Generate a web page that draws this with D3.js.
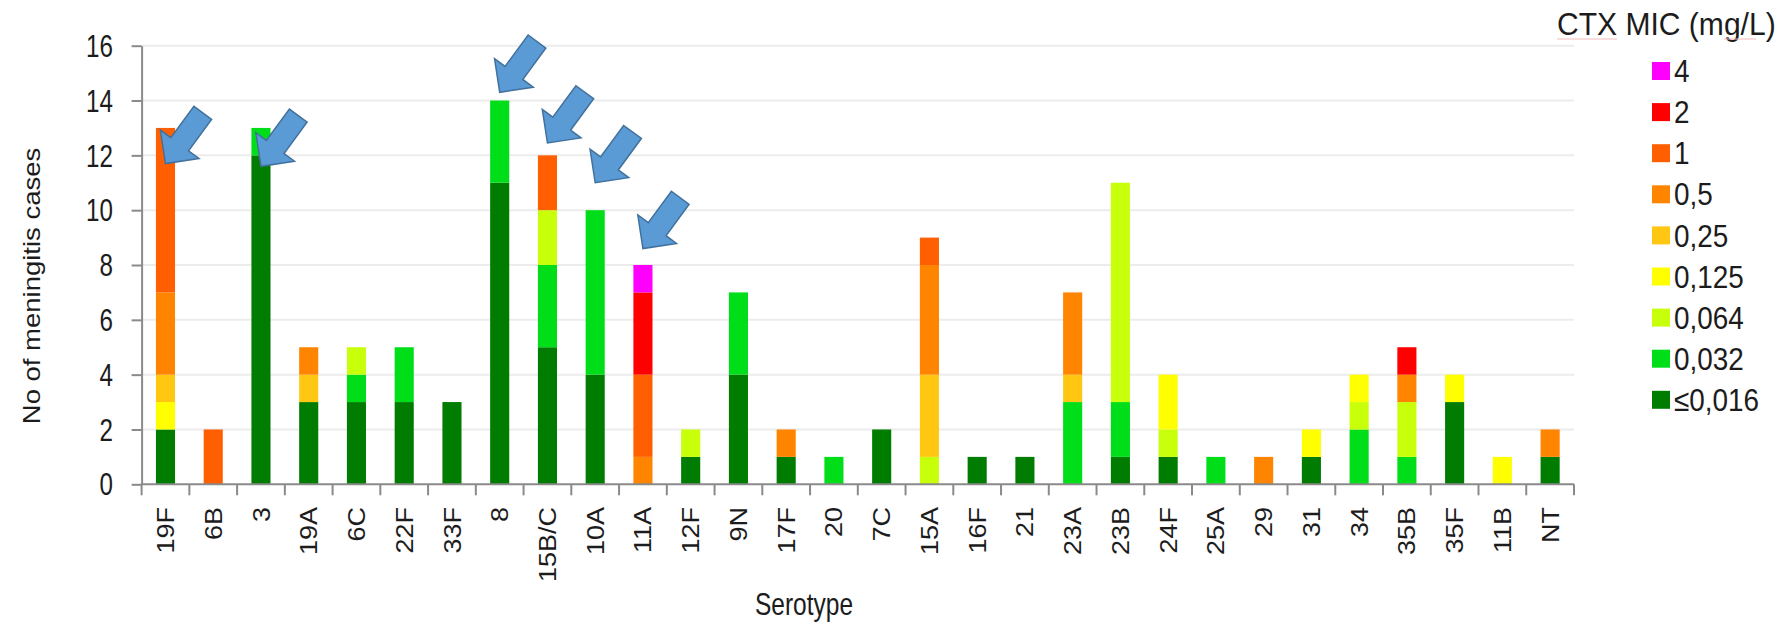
<!DOCTYPE html>
<html>
<head>
<meta charset="utf-8">
<script src="https://cdn.jsdelivr.net/npm/d3@7"></script>
<style>
  html, body { margin: 0; padding: 0; background: #fff; }
  svg { display: block; font-family: "Liberation Sans", Arial, sans-serif; }
</style>
</head>
<body>
<svg id="chart" width="1783" height="624"></svg>
<script>
// Serotypes on the x axis
const serotypes = ["19F","6B","3","19A","6C","22F","33F","8","15B/C","10A","11A","12F","9N","17F","20","7C",
                   "15A","16F","21","23A","23B","24F","25A","29","31","34","35B","35F","11B","NT"];

// Cases per serotype for each cefotaxime MIC level (mg/L)
const mic016 = [2,0,12,3,3,3,3,11,5,4,0,1,4,1,0,2,0,1,1,0,1,1,0,0,1,0,0,3,0,1];
const mic032 = [0,0,1,0,1,2,0,3,3,6,0,0,3,0,1,0,0,0,0,3,2,0,1,0,0,2,1,0,0,0];
const mic064 = [0,0,0,0,1,0,0,0,2,0,0,1,0,0,0,0,1,0,0,0,8,1,0,0,0,1,2,0,0,0];
const mic125 = [1,0,0,0,0,0,0,0,0,0,0,0,0,0,0,0,0,0,0,0,0,2,0,0,1,1,0,1,1,0];
const mic25  = [1,0,0,1,0,0,0,0,0,0,0,0,0,0,0,0,3,0,0,1,0,0,0,0,0,0,0,0,0,0];
const mic5   = [3,0,0,1,0,0,0,0,0,0,1,0,0,1,0,0,4,0,0,3,0,0,0,1,0,0,1,0,0,1];
const mic1   = [6,2,0,0,0,0,0,0,2,0,3,0,0,0,0,0,1,0,0,0,0,0,0,0,0,0,0,0,0,0];
const mic2   = [0,0,0,0,0,0,0,0,0,0,3,0,0,0,0,0,0,0,0,0,0,0,0,0,0,0,1,0,0,0];
const mic4   = [0,0,0,0,0,0,0,0,0,0,1,0,0,0,0,0,0,0,0,0,0,0,0,0,0,0,0,0,0,0];

// MIC levels, stacked from the bottom up, with their legend labels
const micKeys   = ["le016","m032","m064","m125","m25","m5","m1","m2","m4"];
const micLabels = ["≤0,016","0,032","0,064","0,125","0,25","0,5","1","2","4"];
const micValues = [mic016, mic032, mic064, mic125, mic25, mic5, mic1, mic2, mic4];
const micColors = ["#007d00","#00de1a","#c8ff0a","#ffff00","#ffc612","#ff8400","#ff5f00","#ff0000","#ff00ff"];

// Y axis ticks
const yTicks = [0,2,4,6,8,10,12,14,16];

// Serotypes highlighted with an arrow, and the case count the arrow tip sits at
const arrowSerotypes = ["19F","3","8","15B/C","10A","11A"];
const arrowTipValues = [11.7, 11.6, 14.3, 12.45, 11.0, 8.6];

const svg = d3.select("#chart");

const plot = { left: 141.6, right: 1574, top: 45.7, bottom: 484.3 };

const x = d3.scaleBand()
  .domain(serotypes)
  .range([plot.left, plot.right])
  .paddingInner(0.6)
  .paddingOuter(0.3);

const y = d3.scaleLinear().domain([0, 16]).range([plot.bottom, plot.top]);

const color = d3.scaleOrdinal().domain(micKeys).range(micColors);

// Build row table for the stack layout
const rows = serotypes.map((s, i) => {
  const r = { serotype: s };
  micKeys.forEach((k, j) => { r[k] = micValues[j][i]; });
  return r;
});
const stacked = d3.stack().keys(micKeys)(rows);

// Text helper: condensed glyphs via horizontal scaling
function squeezedText(parent, px, py, str, opt) {
  return parent.append("text")
    .attr("transform", `translate(${px},${py}) scale(${opt.sx},1) rotate(${opt.rot || 0})`)
    .attr("text-anchor", opt.anchor || "start")
    .attr("dy", opt.dy || 0)
    .attr("font-size", opt.size)
    .attr("fill", opt.fill || "#1c1c1c")
    .text(str);
}

// Horizontal gridlines
svg.append("g")
  .selectAll("line")
  .data(yTicks.filter(t => t > 0))
  .join("line")
  .attr("x1", plot.left).attr("x2", plot.right)
  .attr("y1", d => y(d)).attr("y2", d => y(d))
  .attr("stroke", "#ececec").attr("stroke-width", 2);

// Stacked bars
svg.append("g")
  .selectAll("g")
  .data(stacked)
  .join("g")
  .attr("fill", d => color(d.key))
  .selectAll("rect")
  .data(d => d.filter(p => p[1] > p[0]))
  .join("rect")
  .attr("x", d => x(d.data.serotype))
  .attr("width", x.bandwidth())
  .attr("y", d => y(d[1]))
  .attr("height", d => y(d[0]) - y(d[1]));

// Y axis
const yAxis = svg.append("g")
  .attr("transform", `translate(${plot.left},0)`)
  .call(d3.axisLeft(y).tickValues(yTicks).tickSize(10).tickSizeOuter(0));
yAxis.select(".domain").attr("stroke", "#8a8a8a").attr("stroke-width", 2);
yAxis.selectAll(".tick line").attr("stroke", "#8a8a8a").attr("stroke-width", 2);
yAxis.selectAll(".tick text").remove();
yTicks.forEach(t => {
  squeezedText(svg, 113, y(t), String(t), { size: 31, sx: 0.78, anchor: "end", dy: "0.36em" });
});

// X axis line with ticks at category boundaries
const step = x.step();
const xAxis = svg.append("g");
xAxis.append("line")
  .attr("x1", plot.left).attr("x2", plot.right)
  .attr("y1", plot.bottom).attr("y2", plot.bottom)
  .attr("stroke", "#8a8a8a").attr("stroke-width", 2);
const boundaries = serotypes.map(s => x(s) + x.bandwidth() / 2 - step / 2).concat([plot.right]);
xAxis.selectAll(".bt")
  .data(boundaries)
  .join("line")
  .attr("class", "bt")
  .attr("x1", d => d).attr("x2", d => d)
  .attr("y1", plot.bottom).attr("y2", plot.bottom + 11)
  .attr("stroke", "#8a8a8a").attr("stroke-width", 2);

// Rotated serotype labels
serotypes.forEach(s => {
  squeezedText(svg, x(s) + x.bandwidth() / 2, 507, s,
    { size: 27, sx: 0.88, rot: -90, anchor: "end", dy: "0.36em" });
});

// Axis titles
squeezedText(svg, 804, 615, "Serotype", { size: 31, sx: 0.79, anchor: "middle" });
squeezedText(svg, 32, 286, "No of meningitis cases", { size: 27.5, sx: 0.84, rot: -90, anchor: "middle", dy: "0.36em" });

// Highlight arrows (block arrows pointing down-left)
const arrowLen = 63, shaftW = 22, headLen = 24, headW = 48;
const arrowPts = [
  [0, -shaftW / 2], [arrowLen - headLen, -shaftW / 2], [arrowLen - headLen, -headW / 2],
  [arrowLen, 0], [arrowLen - headLen, headW / 2], [arrowLen - headLen, shaftW / 2], [0, shaftW / 2]
];
const arrowAngle = Math.atan2(49, -36) * 180 / Math.PI;
svg.append("g")
  .selectAll("polygon")
  .data(arrowSerotypes.map((s, i) => ({ s, v: arrowTipValues[i] })))
  .join("polygon")
  .attr("points", arrowPts.map(p => p.join(",")).join(" "))
  .attr("transform", d => `translate(${x(d.s) + x.bandwidth() / 2},${y(d.v)}) rotate(${arrowAngle}) translate(${-arrowLen},0)`)
  .attr("fill", "#5b9bd5")
  .attr("stroke", "#41719c")
  .attr("stroke-width", 1.5)
  .attr("stroke-linejoin", "miter");

// Legend
const legend = svg.append("g");
squeezedText(legend, 1557, 35, "CTX MIC (mg/L)", { size: 31, sx: 0.97 });
legend.append("line").attr("x1", 1557).attr("x2", 1617).attr("y1", 39).attr("y2", 39)
  .attr("stroke", "#f3b9b9").attr("stroke-width", 1);
legend.append("line").attr("x1", 1724).attr("x2", 1756).attr("y1", 39).attr("y2", 39)
  .attr("stroke", "#f3b9b9").attr("stroke-width", 1);

const legendOrder = micKeys.map((k, i) => i).reverse();
legendOrder.forEach((idx, row) => {
  const top = 62 + row * 41.1;
  legend.append("rect")
    .attr("x", 1652).attr("y", top)
    .attr("width", 18).attr("height", 18)
    .attr("fill", micColors[idx]);
  squeezedText(legend, 1674, top + 9, micLabels[idx], { size: 31, sx: 0.9, dy: "0.36em" });
});
</script>
</body>
</html>
